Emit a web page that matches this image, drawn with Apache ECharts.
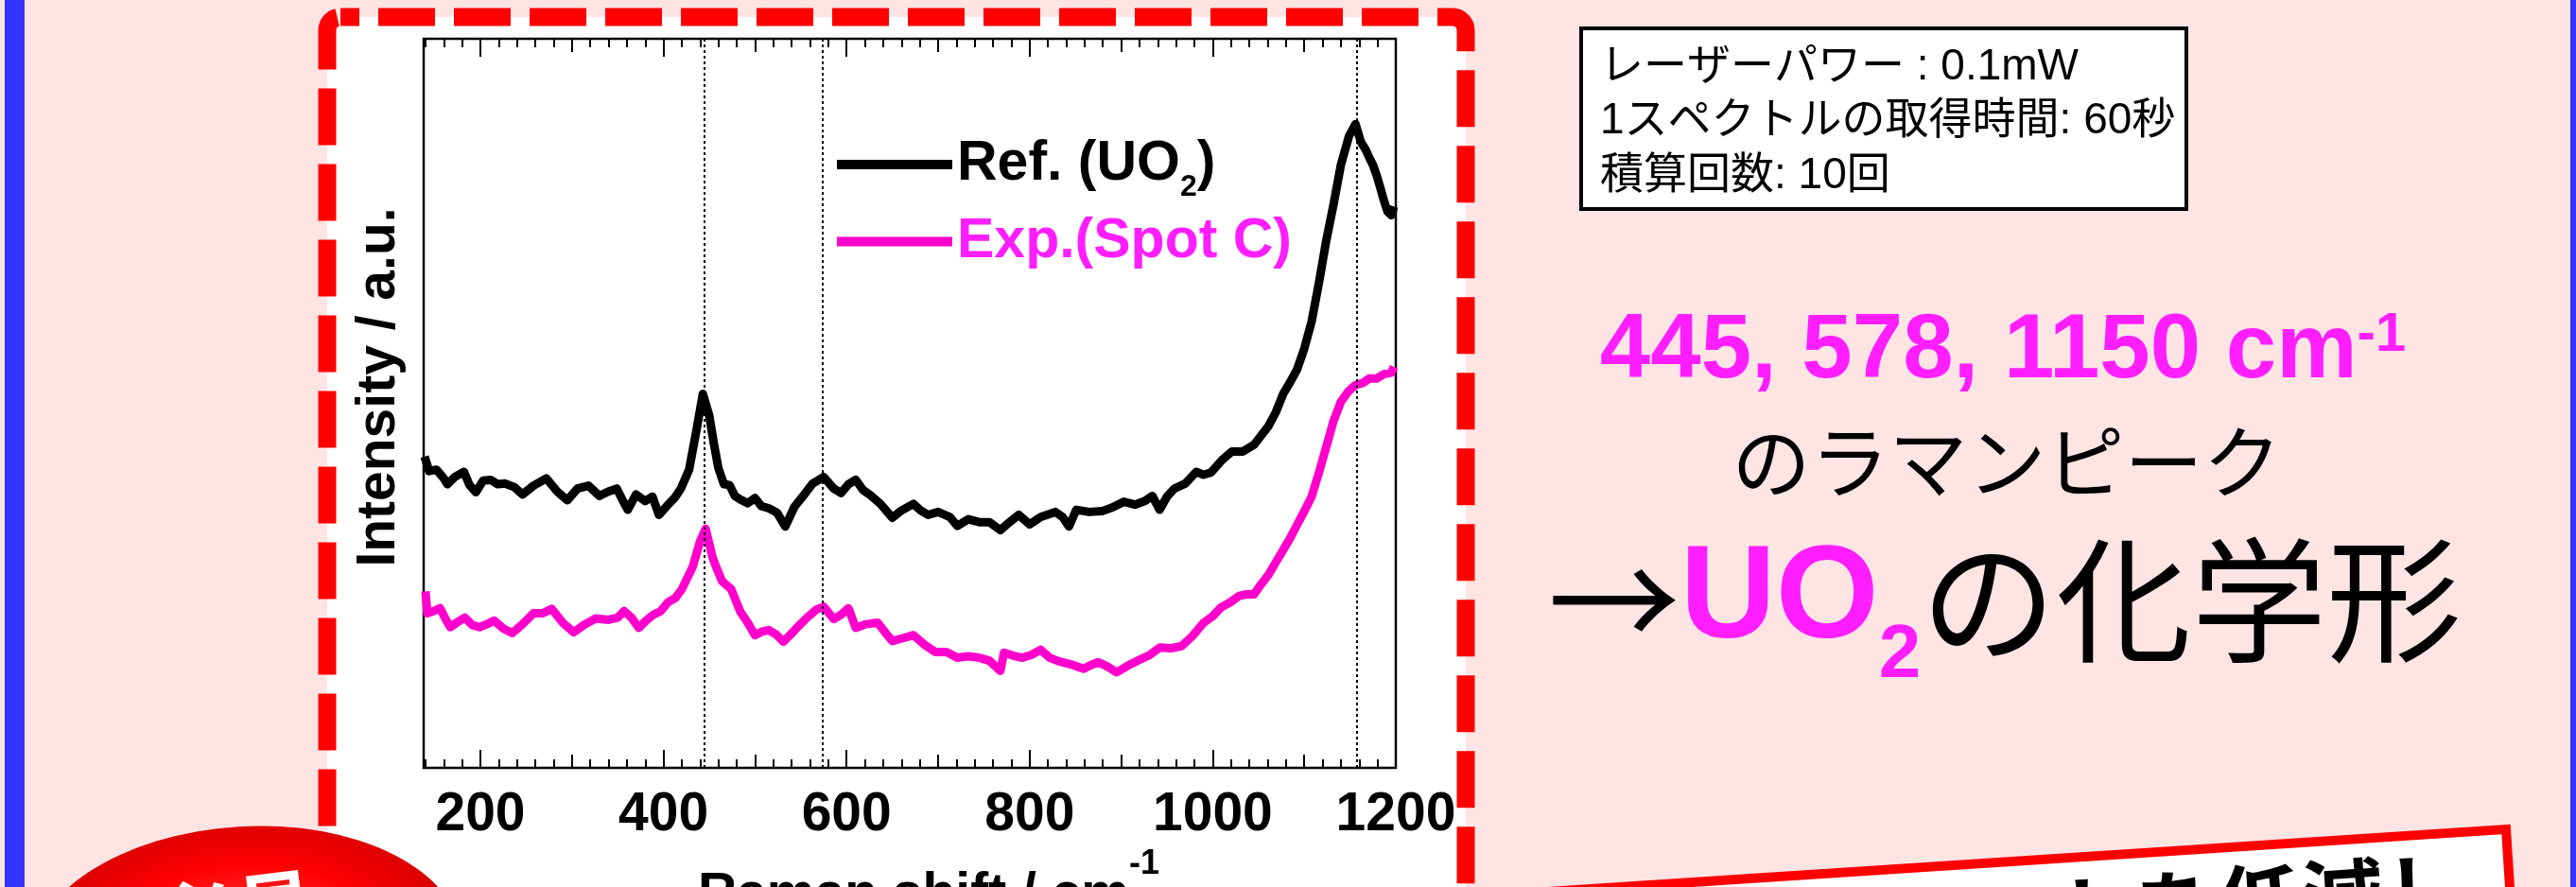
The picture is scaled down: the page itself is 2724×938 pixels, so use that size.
<!DOCTYPE html>
<html><head><meta charset="utf-8">
<script src="https://cdn.jsdelivr.net/npm/echarts@6/dist/echarts.min.js"></script>
<style>html,body{margin:0;padding:0;background:#FFE4E4}#c{width:2724px;height:938px}</style>
</head><body><div id="c"></div>
<script>
// ---- data (y in arbitrary units, 0..100 = plot bottom..top) ----
const refX = [139,144,152,160,164,172,182,188,195,203,211,219,227,237,246,258,272,284,295,306,318,330,340,349,355,361,370,380,388,395,405,412,419,428,436,443,450,455,460,466,472,478,484,492,500,507,515,524,533,543,552,563,575,586,594,602,610,618,626,637,650,660,673,681,689,700,713,721,733,745,756,768,778,788,800,812,828,836,843,851,865,879,890,903,915,926,934,942,950,958,970,982,990,998,1010,1021,1033,1045,1053,1061,1069,1077,1085,1092,1100,1108,1116,1124,1132,1140,1149,1156,1162,1167,1171,1175,1179,1183,1187,1191,1195,1198];
const refY = [42.7,40.7,40.9,39.7,38.9,39.9,40.6,38.8,37.8,39.4,39.5,38.9,39.0,38.5,37.5,38.7,39.7,37.9,36.7,38.3,38.7,37.3,37.9,38.3,36.8,35.4,37.5,36.6,37.2,34.7,36.1,37.0,38.3,40.9,46.3,51.3,48.3,44.5,41.1,38.9,38.8,37.3,36.8,36.3,37.0,35.9,35.6,35.0,33.1,35.8,37.2,39.0,39.9,38.3,37.7,38.9,39.5,38.1,37.4,36.2,34.3,35.3,36.2,35.3,34.7,35.1,34.4,33.2,34.1,33.7,33.7,32.6,33.7,34.7,33.4,34.4,35.1,34.4,33.1,35.4,35.1,35.2,35.7,36.5,36.1,36.6,37.3,35.4,37.2,38.3,39.0,40.6,40.2,40.5,42.2,43.4,43.4,44.3,45.6,46.9,48.8,51.3,53.0,54.6,57.5,61.2,66.5,72.3,77.3,82.7,86.7,88.3,85.8,84.8,83.7,82.7,81.3,79.6,77.8,76.3,75.8,77.0];
const expX = [140,142,149,156,162,167,175,183,191,199,207,215,225,235,246,258,268,278,290,302,313,326,340,350,357,365,373,381,389,397,405,413,420,432,440,446,454,459,464,474,484,492,500,508,515,523,531,539,547,556,567,575,586,594,602,610,621,634,642,650,662,673,685,697,709,721,733,745,756,768,772,782,792,802,812,822,832,845,859,867,875,885,895,907,918,930,942,954,966,978,990,1000,1009,1019,1029,1037,1045,1053,1061,1069,1077,1085,1092,1100,1108,1116,1124,1132,1140,1148,1156,1164,1171,1179,1187,1195,1198];
const expY = [24.2,21.2,21.5,21.9,20.4,19.3,20.0,20.6,19.6,19.3,19.7,20.2,19.1,18.5,19.7,21.2,21.2,21.8,19.9,18.6,19.6,20.5,20.3,20.6,21.5,20.6,19.2,20.2,21.0,21.5,22.7,23.3,24.5,27.6,31.1,32.8,28.7,27.1,25.6,24.5,21.4,19.9,18.2,18.7,18.9,18.3,17.3,18.3,19.4,20.5,21.7,22.1,20.4,21.0,21.9,19.2,19.7,19.9,18.6,17.4,17.8,18.2,16.9,15.9,15.9,15.1,15.3,15.1,14.7,13.3,15.8,15.4,15.1,15.5,16.2,15.1,14.6,14.2,13.6,14.1,14.5,13.9,13.1,14.0,14.7,15.4,16.5,16.4,16.7,18.1,19.9,20.8,22.0,22.7,23.6,23.8,23.8,25.2,26.5,28.2,29.9,31.6,33.3,35.2,37.2,40.5,44.0,47.6,50.2,51.6,52.5,52.8,53.4,53.4,54.0,54.2,55.0];
const xTickLabels = [200,400,600,800,1000,1200];
const xMidTicks = [300,500,700,900,1100];
const peakLines = [445,574,1157];
const seriesNames = ['Ref. (UO2)','Exp.(Spot C)'];
const infoLines = ['レーザーパワー : 0.1mW','1スペクトルの取得時間: 60秒','積算回数: 10回'];

// ---- styling ----
const FONT = "'Liberation Sans', Arial, Helvetica, sans-serif";
const JP = "'Noto Sans CJK JP', 'Noto Sans CJK SC', sans-serif";
const MIX = "'Liberation Sans', 'Noto Sans CJK JP', sans-serif";
const MAG_TEXT = '#FF1EFF';
const MAG_LINE = '#FF00CC';
const X_MIN = 138, X_MAX = 1200;
const xMinorTicks = [];
for (let v = 140; v <= 1180; v += 20) xMinorTicks.push(v);

function mkX(position, ticks, len, withLabel) {
  const a = {
    type: 'value', min: X_MIN, max: X_MAX, position: position, gridIndex: 0,
    axisLine: {show: false}, splitLine: {show: false},
    axisTick: {show: true, inside: true, length: len, customValues: ticks,
      lineStyle: {color: '#000', width: 2}},
    axisLabel: {show: false}
  };
  if (withLabel) {
    a.axisLabel = {show: true, customValues: xTickLabels, margin: 22, fontSize: 57,
      fontWeight: 'bold', fontFamily: FONT, color: '#000', formatter: v => String(v)};
    a.name = '{a|Raman shift / cm}{s|-1}';
    a.nameLocation = 'middle';
    a.nameGap = 83;
    a.nameTextStyle = {color: '#000', padding: [0, 0, 0, 40], rich: {
      a: {fontSize: 57, fontWeight: 'bold', fontFamily: FONT, color: '#000'},
      s: {fontSize: 36, fontWeight: 'bold', fontFamily: FONT, color: '#000', padding: [0, 0, 66, 0]}
    }};
  }
  return a;
}

const chart = echarts.init(document.getElementById('c'), null, {renderer: 'canvas'});
const option = {
  animation: false,
  backgroundColor: '#FFE4E4',
  grid: {left: 448, top: 41, width: 1028, height: 771, show: true, containLabel: false,
    outerBoundsMode: 'none',
    backgroundColor: '#fff', borderColor: '#000', borderWidth: 2.5},
  xAxis: [
    mkX('bottom', xTickLabels, 19, true),
    mkX('bottom', xMidTicks, 14, false),
    mkX('bottom', xMinorTicks, 9, false),
    mkX('top', xTickLabels, 19, false),
    mkX('top', xMidTicks, 14, false),
    mkX('top', xMinorTicks, 9, false)
  ],
  yAxis: {type: 'value', min: 0, max: 100, axisLine: {show: false}, axisTick: {show: false},
    axisLabel: {show: false}, splitLine: {show: false},
    name: 'Intensity / a.u.', nameLocation: 'middle', nameRotate: 90, nameGap: 18,
    nameTextStyle: {fontSize: 57, fontWeight: 'bold', fontFamily: FONT, color: '#000', padding: [0, 0, 0, 34]}},
  legend: {
    left: 885, top: 134, orient: 'vertical', padding: 0, itemWidth: 122, itemHeight: 10, itemGap: 12,
    icon: 'rect',
    data: [{name: seriesNames[0], textStyle: {color: '#000'}}, {name: seriesNames[1], textStyle: {color: MAG_TEXT}}],
    formatter: function (n) { return n === seriesNames[0] ? '{a|Ref. (UO}{s|2}{a|)}' : '{a|' + n + '}'; },
    textStyle: {fontSize: 59, fontWeight: 'bold', fontFamily: FONT, rich: {
      a: {fontSize: 59, fontWeight: 'bold', fontFamily: FONT, lineHeight: 80},
      s: {fontSize: 32, fontWeight: 'bold', fontFamily: FONT, lineHeight: 80, padding: [48, 0, 0, 0]}
    }}
  },
  series: [
    {name: seriesNames[0], type: 'line', xAxisIndex: 0, yAxisIndex: 0, showSymbol: false,
      data: refX.map((x, i) => [x, refY[i]]), lineStyle: {color: '#000', width: 9, join: 'round'}, itemStyle: {color: '#000'},
      markLine: {symbol: 'none', silent: true, label: {show: false},
        lineStyle: {color: '#000', type: [3, 3], width: 2},
        data: peakLines.map(v => ({xAxis: v}))}},
    {name: seriesNames[1], type: 'line', xAxisIndex: 0, yAxisIndex: 0, showSymbol: false,
      data: expX.map((x, i) => [x, expY[i]]), lineStyle: {color: MAG_LINE, width: 9, join: 'round'}, itemStyle: {color: MAG_LINE}}
  ],
  graphic: [
    {type: 'rect', z: -20, shape: {x: 0, y: 0, width: 2724, height: 938}, style: {fill: '#FFE4E4'}},
    {type: 'rect', z: -19, shape: {x: 5, y: 0, width: 21, height: 938}, style: {fill: '#3333FF'}},
    {type: 'rect', z: -19, shape: {x: 2718, y: 0, width: 6, height: 938}, style: {fill: '#3333FF'}},
    {type: 'rect', z: -18, shape: {x: 346, y: 18, width: 1204, height: 1100, r: 14},
      style: {fill: '#fff', stroke: '#FF0000', lineWidth: 19, lineDash: [60, 20], lineDashOffset: 40}},
    // info box
    {type: 'rect', z: 5, shape: {x: 1672, y: 30, width: 640, height: 191},
      style: {fill: '#fff', stroke: '#000', lineWidth: 4}},
    ...infoLines.map((t, i) => ({type: 'text', z: 6, style: {text: t, x: 1692, y: 71 + i * 57.5,
      fontSize: 46, fontFamily: MIX, fill: '#000', align: 'left', verticalAlign: 'middle'}})),
    // conclusion text
    {type: 'text', z: 6, style: {text: '{m|445, 578, 1150 cm}{p|-1}', x: 2118, y: 373, align: 'center', verticalAlign: 'middle',
      rich: {m: {fontSize: 96, fontWeight: 'bold', fontFamily: FONT, fill: MAG_TEXT},
             p: {fontSize: 58, fontWeight: 'bold', fontFamily: FONT, fill: MAG_TEXT, padding: [0, 0, 36, 0]}}}},
    {type: 'text', z: 6, style: {text: 'のラマンピーク', x: 2122, y: 488, align: 'center', verticalAlign: 'middle',
      fontSize: 83, fontFamily: JP, fill: '#000'}},
    {type: 'text', z: 6, style: {text: '{ar|→}{uo|UO}{sb|2}{jp|の化学形}', x: 2120, y: 635, align: 'center', verticalAlign: 'middle',
      rich: {ar: {fontSize: 140, fontFamily: JP, fill: '#000'},
             uo: {fontSize: 140, fontWeight: 'bold', fontFamily: FONT, fill: MAG_TEXT},
             sb: {fontSize: 80, fontWeight: 'bold', fontFamily: FONT, fill: MAG_TEXT, padding: [118, 0, 0, 0]},
             jp: {fontSize: 143, fontFamily: JP, fill: '#000'}}}},
    // red button bottom-left
    {type: 'circle', z: 8, x: 260, y: 1007, scaleX: 1.72, scaleY: 1, rotation: 0.06,
      shape: {cx: 0, cy: 0, r: 133},
      style: {fill: {type: 'radial', x: 0.5, y: 0.45, r: 0.55, colorStops: [
        {offset: 0, color: '#FF4A4A'}, {offset: 0.55, color: '#FF0000'}, {offset: 0.85, color: '#DD0000'}, {offset: 1, color: '#8A0000'}]}}},
    {type: 'text', z: 9, x: 250, y: 965, rotation: 0.12,
      style: {text: '必見', x: 0, y: 0, align: 'center', verticalAlign: 'middle', fontSize: 84, fontWeight: 'bold', fontFamily: JP, fill: '#fff'}},
    // rotated box bottom-right
    {type: 'group', z: 8, x: 2650, y: 877, rotation: 0.065, children: [
      {type: 'rect', shape: {x: -1150, y: 0, width: 1150, height: 400}, style: {fill: '#fff', stroke: '#FF0000', lineWidth: 10}},
      {type: 'text', style: {text: 'コストを低減し', x: -45, y: 16, align: 'right', verticalAlign: 'top',
        fontSize: 88, fontWeight: 'bold', fontFamily: JP, fill: '#000'}}
    ]}
  ]
};
chart.setOption(option);
</script></body></html>
